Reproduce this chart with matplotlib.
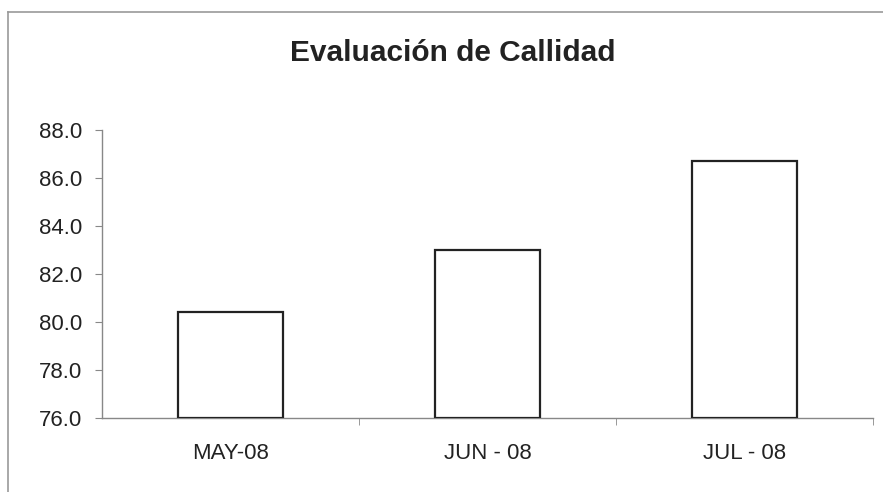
import matplotlib.pyplot as plt
from matplotlib.lines import Line2D

plt.rcParams['font.family'] = ['Liberation Sans', 'DejaVu Sans']

months = ['MAY-08', 'JUN - 08', 'JUL - 08']
scores = [80.4, 83.0, 86.7]
y_ticks = [76.0, 78.0, 80.0, 82.0, 84.0, 86.0, 88.0]
title = 'Evaluación de Callidad'


def main():
    fig = plt.figure(figsize=(8.83, 4.92), dpi=100)
    ax = fig.add_axes([0.1155, 0.1504, 0.8732, 0.5854])

    x = list(range(len(months)))
    ax.bar(x, [s - y_ticks[0] for s in scores], bottom=y_ticks[0], width=0.405,
           facecolor='white', edgecolor='#222222', linewidth=1.6, zorder=3)

    ax.set_xlim(-0.5, len(months) - 0.5)
    ax.set_ylim(y_ticks[0], y_ticks[-1])
    ax.set_yticks(y_ticks)
    ax.set_yticklabels(['{:.1f}'.format(v) for v in y_ticks], fontsize=16, color='#222222')

    # category labels centred, tick marks on the boundaries
    ax.set_xticks(x)
    ax.set_xticklabels(months, fontsize=16, color='#222222')
    ax.tick_params(axis='x', length=0, pad=18)
    ax.set_xticks([i + 0.5 for i in x], minor=True)
    ax.tick_params(axis='x', which='minor', length=5, color='#888888', direction='out')
    ax.tick_params(axis='y', length=5, color='#888888', pad=9)

    for side in ['top', 'right']:
        ax.spines[side].set_visible(False)
    for side in ['left', 'bottom']:
        ax.spines[side].set_color('#888888')
        ax.spines[side].set_linewidth(1.0)

    fig.text(0.5125, 0.892, title, ha='center', va='center', fontsize=21.5,
             fontweight='bold', color='#222222')

    # outer chart frame (top and left edges visible in the scan)
    fig.add_artist(Line2D([0.009, 1.0], [0.975, 0.975], color='#999999', lw=1.2))
    fig.add_artist(Line2D([0.009, 0.009], [0.0, 0.975], color='#999999', lw=1.2))

    plt.savefig('out.png', dpi=100)


if __name__ == '__main__':
    main()
